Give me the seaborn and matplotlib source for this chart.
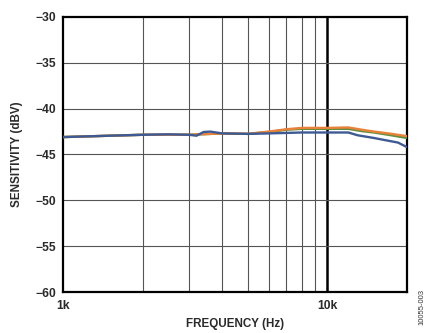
import matplotlib
matplotlib.use("Agg")
import matplotlib.pyplot as plt
import seaborn as sns
import pandas as pd
from matplotlib.ticker import FixedLocator, NullFormatter, NullLocator

# Frequency response, three measured units
freq_a = [1000, 1500, 2000, 2500, 3000, 3200, 3400, 3600, 4000, 5000, 6000, 8000,
          10000, 12000, 13000, 15000, 17000, 18500, 20000]
sens_a = [-43.1, -42.95, -42.85, -42.8, -42.85, -42.95, -42.55, -42.5, -42.7, -42.75,
          -42.7, -42.6, -42.6, -42.6, -42.9, -43.2, -43.5, -43.7, -44.2]

freq_b = [1000, 2000, 3000, 4000, 5000, 6000, 7000, 8000, 10000, 12000, 13500,
          15000, 17000, 20000]
sens_b = [-43.1, -42.85, -42.85, -42.7, -42.75, -42.5, -42.25, -42.1, -42.1, -42.05,
          -42.3, -42.5, -42.7, -43.0]

freq_c = [1000, 2000, 3000, 4000, 5000, 6000, 7000, 8000, 10000, 12000, 13500,
          15000, 17000, 20000]
sens_c = [-43.1, -42.85, -42.85, -42.7, -42.75, -42.55, -42.3, -42.2, -42.2, -42.2,
          -42.45, -42.6, -42.85, -43.2]

y_ticks = [-60, -55, -50, -45, -40, -35, -30]
x_ticks = [1000, 10000]
x_labels = ["1k", "10k"]

sns.set_theme(style="white")
plt.rcParams["font.family"] = ["Liberation Sans", "DejaVu Sans"]

df = pd.concat([
    pd.DataFrame({"freq": freq_c, "sens": sens_c, "unit": "C"}),
    pd.DataFrame({"freq": freq_b, "sens": sens_b, "unit": "B"}),
    pd.DataFrame({"freq": freq_a, "sens": sens_a, "unit": "A"}),
])
palette = {"A": "#3d5a94", "B": "#e8813a", "C": "#5f8f3c"}

fig = plt.figure(figsize=(4.35, 3.33), dpi=100)
ax = fig.add_axes([0.1448, 0.1231, 0.7908, 0.8259])
ax.set_xscale("log")

# grid: minor frequency lines and dB lines
for f in range(2000, 10000, 1000):
    ax.axvline(f, color="#555555", lw=0.8, zorder=1)
ax.axvline(10000, color="black", lw=1.8, zorder=1)
for y in y_ticks[1:-1]:
    ax.axhline(y, color="#555555", lw=0.8, zorder=1)

sns.lineplot(data=df, x="freq", y="sens", hue="unit", palette=palette,
             hue_order=["C", "B", "A"], linewidth=1.7, legend=False, ax=ax,
             estimator=None, sort=True, zorder=3)

ax.set_xlim(1000, 20000)
ax.set_ylim(-60, -30)
ax.xaxis.set_major_locator(FixedLocator(x_ticks))
ax.set_xticklabels(x_labels)
ax.xaxis.set_minor_locator(NullLocator())
ax.xaxis.set_minor_formatter(NullFormatter())
ax.set_yticks(y_ticks)
ax.set_yticklabels(["\u221260", "\u221255", "\u221250", "\u221245", "\u221240", "\u221235", "\u221230"])
ax.tick_params(axis="both", length=0, labelsize=8.7, colors="#2a2a2a")
ax.tick_params(axis="x", pad=6)
ax.tick_params(axis="y", pad=5)
for lbl in ax.get_xticklabels() + ax.get_yticklabels():
    lbl.set_fontweight("bold")

for s in ax.spines.values():
    s.set_color("black")
    s.set_linewidth(1.6)
    s.set_visible(True)

ax.set_xlabel("FREQUENCY (Hz)", fontsize=8.4, fontweight="bold", color="#2a2a2a", labelpad=4)
ax.set_ylabel("SENSITIVITY (dBV)", fontsize=8.4, fontweight="bold", color="#2a2a2a", labelpad=9)

fig.text(0.970, 0.078, "10055-003", rotation=90, fontsize=5.5, color="#333333",
         ha="center", va="center")

fig.savefig("out.png", dpi=100, facecolor="white")
